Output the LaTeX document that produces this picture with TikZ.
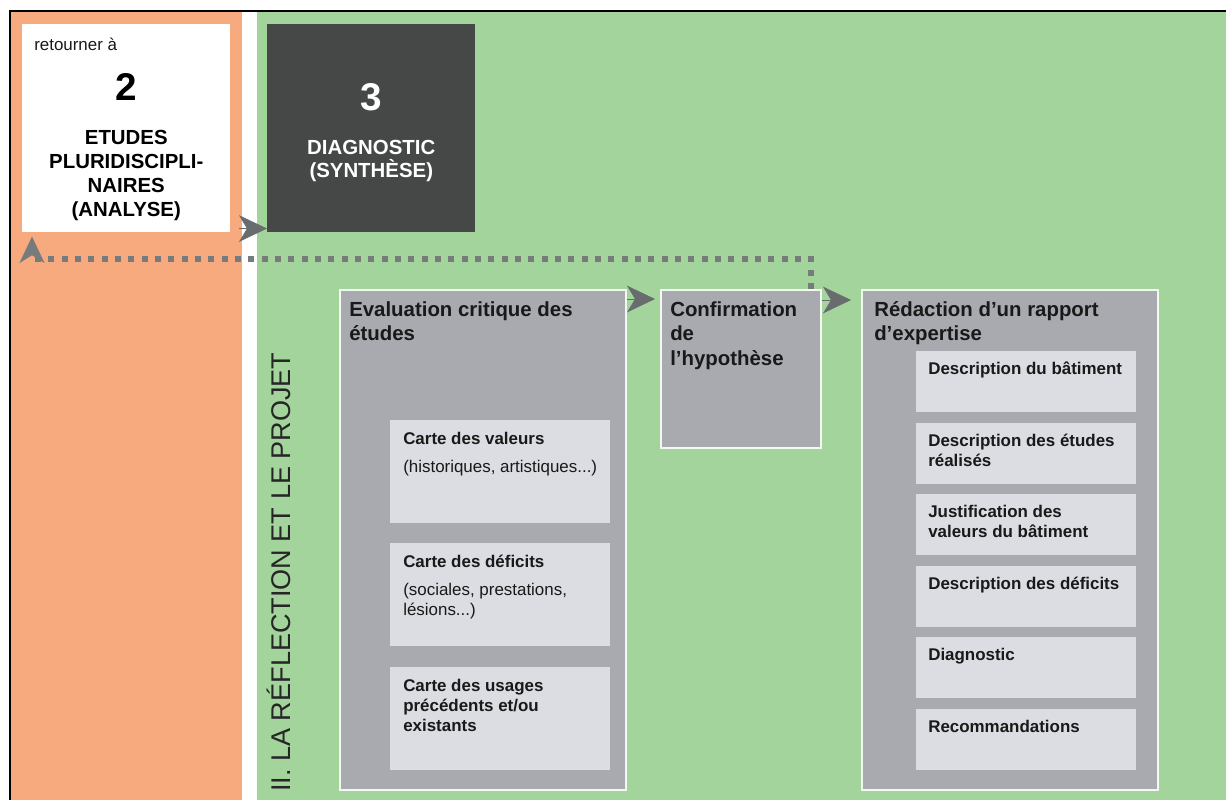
\documentclass[tikz,border=0pt]{standalone}
\usepackage{fontspec}
\setmainfont{Liberation Sans}
\usetikzlibrary{arrows.meta,positioning}
\definecolor{orangefond}{HTML}{F6AA7D}
\definecolor{vertfond}{HTML}{A3D49B}
\definecolor{grisbloc}{HTML}{A8AAB0}
\definecolor{grisclair}{HTML}{DCDDE3}
\definecolor{grisfonce}{HTML}{464848}
\definecolor{grisfleche}{HTML}{696C6E}
\begin{document}
\begin{tikzpicture}[x=0.75pt,y=-0.75pt,
  bloc/.style={draw=white!85!vertfond, line width=1.5pt, fill=grisbloc, anchor=north west, inner sep=0pt},
  carte/.style={fill=grisclair, anchor=north west, inner sep=0pt, minimum width=165pt},
  titre/.style={anchor=north west, inner sep=0pt, align=left, text=black!90, font=\bfseries\fontsize{15.3}{18.5}\selectfont},
  texte/.style={anchor=north west, inner sep=0pt, align=left, text=black!90, font=\fontsize{12.7}{15}\selectfont},
  fleche/.style={grisfleche, line width=0.4pt, -{Stealth[length=21pt,width=20pt,inset=6pt]}},
  retour/.style={grisfleche!90!white, line width=4.5pt, dash pattern=on 4.5pt off 5.5pt, -{Stealth[length=20pt,width=19pt,inset=6pt,line width=0pt]}}]
\useasboundingbox (0,0) rectangle (1226,800);

% fonds
\fill[orangefond] (10,11) rectangle (242,800);
\fill[vertfond] (257,11) rectangle (1226,800);
\draw[line width=1.5pt] (10,800) -- (10,11) -- (1226,11);

% etapes 2 et 3
\node[fill=white, anchor=north west, inner sep=0pt, minimum width=156pt, minimum height=156pt] (box2) at (22,24) {};
\node[texte] (retourner) at ([shift={(12,14)}]box2.north west) {retourner à};
\node[anchor=north, inner sep=0pt, font=\bfseries\fontsize{29}{29}\selectfont] (num2) at ([shift={(0,49)}]box2.north) {2};
\node[anchor=north, inner sep=0pt, align=center, font=\bfseries\fontsize{15.3}{18}\selectfont] (etudes) at ([shift={(0,106)}]box2.north) {ETUDES\\PLURIDISCIPLI-\\NAIRES\\(ANALYSE)};

\node[fill=grisfonce, anchor=north west, inner sep=0pt, minimum width=156pt, minimum height=156pt] (box3) at (267,24) {};
\node[anchor=north, inner sep=0pt, text=white, font=\bfseries\fontsize{29}{29}\selectfont] (num3) at ([shift={(0,59)}]box3.north) {3};
\node[anchor=north, inner sep=0pt, align=center, text=white, font=\bfseries\fontsize{15.3}{17.5}\selectfont] (diag) at ([shift={(0,116)}]box3.north) {DIAGNOSTIC\\(SYNTHÈSE)};

% titre vertical
\node[rotate=90, anchor=base west, inner sep=0pt, text=black!85, font=\fontsize{20.3}{20.3}\selectfont] (partie) at (290,792) {II. LA RÉFLECTION ET LE PROJET};

% evaluation
\node[bloc, minimum width=214.5pt, minimum height=375pt] (eval) at (339,289) {};
\node[titre] (evalt) at ([shift={(10,12)}]eval.north west) {Evaluation critique des\\études};
\node[carte, minimum height=77.25pt] (valeurs) at (390,420) {};
\node[texte] (valeurst) at ([shift={(13,12)}]valeurs.north west) {\textbf{Carte des valeurs}\\[6pt](historiques, artistiques...)};
\node[carte, minimum height=77.25pt] (deficits) at (390,543) {};
\node[texte] (deficitst) at ([shift={(13,12)}]deficits.north west) {\textbf{Carte des déficits}\\[6pt](sociales, prestations,\\lésions...)};
\node[carte, minimum height=77.25pt] (usages) at (390,667) {};
\node[texte, font=\bfseries\fontsize{12.7}{15}\selectfont] (usagest) at ([shift={(13,12)}]usages.north west) {Carte des usages\\précédents et/ou\\existants};

% confirmation
\node[bloc, minimum width=120pt, minimum height=118.5pt] (confirm) at (660,289) {};
\node[titre] (confirmt) at ([shift={(10,12)}]confirm.north west) {Confirmation\\de\\l'hypothèse};

% rapport
\node[bloc, minimum width=222pt, minimum height=375pt] (redac) at (861,289) {};
\node[titre] (redact) at ([shift={(13,12)}]redac.north west) {Rédaction d’un rapport\\d’expertise};
\node[carte, minimum height=45.75pt] (r1) at (916,351) {};
\node[texte, font=\bfseries\fontsize{12.7}{15}\selectfont] (r1t) at ([shift={(12,11)}]r1.north west) {Description du bâtiment};
\node[carte, minimum height=45.75pt] (r2) at (916,423) {};
\node[texte, font=\bfseries\fontsize{12.7}{15}\selectfont] (r2t) at ([shift={(12,11)}]r2.north west) {Description des études\\réalisés};
\node[carte, minimum height=45.75pt] (r3) at (916,494) {};
\node[texte, font=\bfseries\fontsize{12.7}{15}\selectfont] (r3t) at ([shift={(12,11)}]r3.north west) {Justification des\\valeurs du bâtiment};
\node[carte, minimum height=45.75pt] (r4) at (916,566) {};
\node[texte, font=\bfseries\fontsize{12.7}{15}\selectfont] (r4t) at ([shift={(12,11)}]r4.north west) {Description des déficits};
\node[carte, minimum height=45.75pt] (r5) at (916,637) {};
\node[texte, font=\bfseries\fontsize{12.7}{15}\selectfont] (r5t) at ([shift={(12,11)}]r5.north west) {Diagnostic};
\node[carte, minimum height=45.75pt] (r6) at (916,709) {};
\node[texte, font=\bfseries\fontsize{12.7}{15}\selectfont] (r6t) at ([shift={(12,11)}]r6.north west) {Recommandations};

% fleches
\draw[fleche, shorten <=6pt] ([yshift=3pt]box2.south east) -- ([yshift=3pt]box3.south west);
\draw[fleche, shorten >=3.75pt] ([yshift=-7.5pt]eval.north east) -- ([yshift=-7.5pt]confirm.north west);
\draw[fleche, shorten >=7.5pt] ([yshift=-8.25pt]confirm.north east) -- ([yshift=-8.25pt]redac.north west);
\draw[retour, shorten >=3pt] ([xshift=-8.25pt]confirm.north east) -- ++(0,-30) -| ([xshift=7.5pt]box2.south west);

\end{tikzpicture}
\end{document}
